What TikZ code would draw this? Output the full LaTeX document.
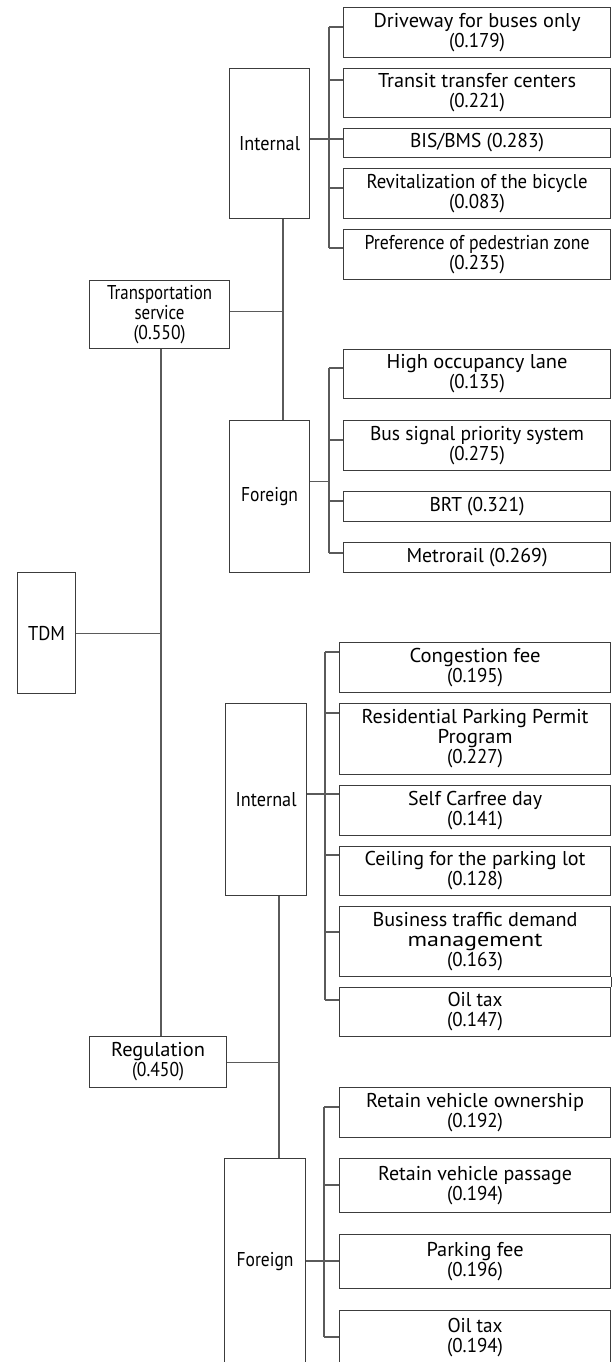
\documentclass[tikz,border=0pt]{standalone}
\usepackage{fontspec}
\setmainfont{PT Sans}
\usetikzlibrary{calc}
\definecolor{boxc}{HTML}{3C3C3C}
\definecolor{linec}{HTML}{5A5A5A}
\newcommand\tw[2]{\resizebox{#1pt}{\height}{#2}}
\begin{document}
\begin{tikzpicture}[x=1pt,y=-1pt,
  box/.style={draw=boxc, line width=1.1pt, anchor=north west, inner sep=0pt, align=center,
              font=\fontsize{20}{20}\selectfont, text=black},
  conn/.style={draw=linec, line width=1.1pt}]
\useasboundingbox (0,0) rectangle (613,1362);
\clip (0,0) rectangle (613,1362);

% root and first level
\node[box, minimum width=58pt, minimum height=121pt] (tdm) at (17,572) {\tw{37}{TDM}};
\node[box, minimum width=140pt, minimum height=68pt] (trans) at (89,280) {\tw{105}{Transportation}\\\tw{50}{service}\\\tw{52}{(0.550)}};
\node[box, minimum width=137pt, minimum height=51pt] (reg) at (89,1036) {\tw{94}{Regulation}\\\tw{52}{(0.450)}};

% second level
\node[box, minimum width=80pt, minimum height=150pt] (int1) at (229,68) {\tw{61}{Internal}};
\node[box, minimum width=80pt, minimum height=152pt] (for1) at (229,420) {\tw{57}{Foreign}};
\node[box, minimum width=81pt, minimum height=192pt] (int2) at (225,703) {\tw{61}{Internal}};
\node[box, minimum width=81pt, minimum height=206pt] (for2) at (224,1158) {\tw{57}{Foreign}};

% leaves: transportation / internal
\node[box, minimum width=267pt, minimum height=50pt] (l1) at (343,7) {\tw{207}{Driveway for buses only}\\\tw{56}{(0.179)}};
\node[box, minimum width=267pt, minimum height=49pt] (l2) at (343,68) {\tw{198}{Transit transfer centers}\\\tw{56}{(0.221)}};
\node[box, minimum width=267pt, minimum height=29pt] (l3) at (343,128) {\tw{134}{BIS/BMS (0.283)}};
\node[box, minimum width=267pt, minimum height=50pt] (l4) at (343,168) {\tw{221}{Revitalization of the bicycle}\\\tw{56}{(0.083)}};
\node[box, minimum width=267pt, minimum height=50pt] (l5) at (343,229) {\tw{225}{Preference of pedestrian zone}\\\tw{56}{(0.235)}};
% leaves: transportation / foreign
\node[box, minimum width=267pt, minimum height=49pt] (f1) at (343,349) {\tw{181}{High occupancy lane}\\\tw{56}{(0.135)}};
\node[box, minimum width=267pt, minimum height=50pt] (f2) at (343,420) {\tw{214}{Bus signal priority system}\\\tw{56}{(0.275)}};
\node[box, minimum width=267pt, minimum height=30pt] (f3) at (343,491) {\tw{95}{BRT (0.321)}};
\node[box, minimum width=267pt, minimum height=30pt] (f4) at (343,542) {\tw{141}{Metrorail (0.269)}};
% leaves: regulation / internal
\node[box, minimum width=271pt, minimum height=50pt] (r1) at (339,642) {\tw{131}{Congestion fee}\\\tw{56}{(0.195)}};
\node[box, minimum width=271pt, minimum height=71pt] (r2) at (339,703) {\tw{227}{Residential Parking Permit}\\\tw{75}{Program}\\\tw{56}{(0.227)}};
\node[box, minimum width=271pt, minimum height=50pt] (r3) at (339,785) {\tw{134}{Self Carfree day}\\\tw{56}{(0.141)}};
\node[box, minimum width=271pt, minimum height=49pt] (r4) at (339,846) {\tw{221}{Ceiling for the parking lot}\\\tw{56}{(0.128)}};
\node[box, minimum width=271pt, minimum height=70pt] (r5) at (339,906) {\tw{205}{Business traffic demand}\\\tw{135}{management}\\\tw{56}{(0.163)}};
\node[box, minimum width=271pt, minimum height=49pt] (r6) at (339,987) {\tw{55}{Oil tax}\\\tw{56}{(0.147)}};
% leaves: regulation / foreign
\node[box, minimum width=271pt, minimum height=50pt] (g1) at (339,1087) {\tw{218}{Retain vehicle ownership}\\\tw{56}{(0.192)}};
\node[box, minimum width=271pt, minimum height=54pt] (g2) at (339,1158) {\tw{194}{Retain vehicle passage}\\\tw{56}{(0.194)}};
\node[box, minimum width=271pt, minimum height=54pt] (g3) at (339,1234) {\tw{97}{Parking fee}\\\tw{56}{(0.196)}};
\node[box, minimum width=271pt, minimum height=54pt] (g4) at (339,1310) {\tw{55}{Oil tax}\\\tw{56}{(0.194)}};

% spine x positions
\coordinate (s1) at (329,0);
\coordinate (s2) at (329,0);
\coordinate (s3) at (325,0);
\coordinate (s4) at (324,0);
\coordinate (tt) at (283,0);
\coordinate (tb) at (279,0);
\coordinate (tm) at (161,0);

% branch points on leaves
\coordinate (b1) at ([yshift=-20pt]l1.north west);
\coordinate (b2) at ([yshift=-12pt]l2.north west);
\coordinate (b3) at ([yshift=-11pt]l3.north west);
\coordinate (b4) at ([yshift=-20pt]l4.north west);
\coordinate (b5) at ([yshift=-19pt]l5.north west);
\coordinate (c1) at ([yshift=-19pt]f1.north west);
\coordinate (c2) at ([yshift=-20pt]f2.north west);
\coordinate (c3) at ([yshift=-10pt]f3.north west);
\coordinate (c4) at ([yshift=-11pt]f4.north west);
\coordinate (d1) at ([yshift=-10pt]r1.north west);
\coordinate (d2) at ([yshift=-10pt]r2.north west);
\coordinate (d3) at ([yshift=-9pt]r3.north west);
\coordinate (d4) at ([yshift=-9pt]r4.north west);
\coordinate (d5) at ([yshift=-26pt]r5.north west);
\coordinate (d6) at ([yshift=-13pt]r6.north west);
\coordinate (e1) at ([yshift=-20pt]g1.north west);
\coordinate (e2) at ([yshift=-27pt]g2.north west);
\coordinate (e3) at ([yshift=-27pt]g3.north west);
\coordinate (e4) at ([yshift=-27pt]g4.north west);

% leaf connectors
\foreach \b in {b1,b2,b3,b4,b5} \draw[conn] (\b) -- (\b -| s1);
\draw[conn] (b1 -| s1) -- (b5 -| s1);
\draw[conn] (int1.east |- b3) -- (b3 -| s1);
\foreach \b in {c1,c2,c3,c4} \draw[conn] (\b) -- (\b -| s2);
\draw[conn] (c1 -| s2) -- (c4 -| s2);
\coordinate (fj1) at ([yshift=15pt]for1.east);
\draw[conn] (fj1) -- (fj1 -| s2);
\foreach \b in {d1,d2,d3,d4,d5,d6} \draw[conn] (\b) -- (\b -| s3);
\draw[conn] (d1 -| s3) -- (d6 -| s3);
\draw[conn] (int2.east |- d3) -- (d3 -| s3);
\foreach \b in {e1,e2,e3,e4} \draw[conn] (\b) -- (\b -| s4);
\draw[conn] (e1 -| s4) -- (e4 -| s4);
\draw[conn] (for2.east |- e3) -- (e3 -| s4);
% short joint on the right between two boxes
\draw[draw=boxc, line width=1.1pt] (r5.south east) -- (r6.north east);

% trunks
\draw[conn] (int1.south -| tt) -- (for1.north -| tt);
\coordinate (tj) at ([yshift=3pt]trans.east);
\draw[conn] (tj) -- (tj -| tt);
\draw[conn] (int2.south -| tb) -- (for2.north -| tb);
\draw[conn] (reg.east) -- (reg.east -| tb);
\draw[conn] (trans.south -| tm) -- (reg.north -| tm);
\draw[conn] (tdm.east) -- (tdm.east -| tm);
\end{tikzpicture}
\end{document}
